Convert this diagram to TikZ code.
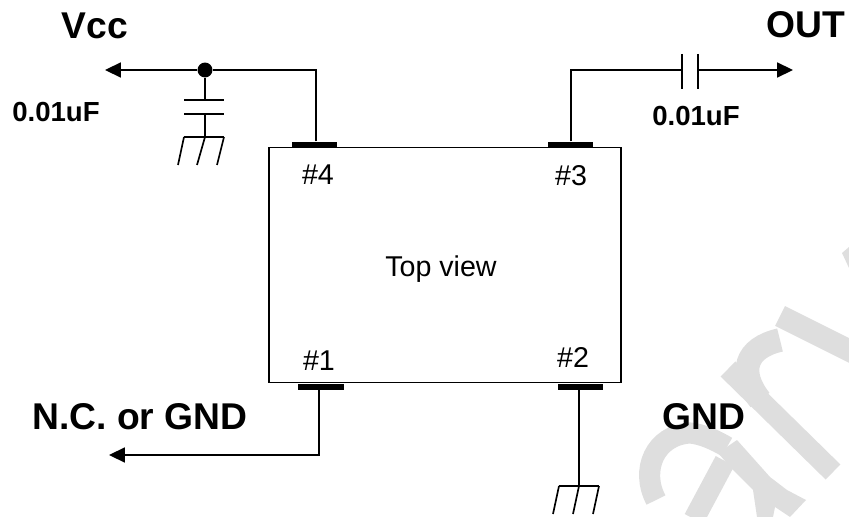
\documentclass[tikz,border=0pt]{standalone}
\usepackage{fontspec}
\setmainfont{Liberation Sans}
\usetikzlibrary{arrows.meta}
\tikzset{
	wire/.style = {line width = 0.95pt},
	arrowwire/.style = {wire, -{Triangle[length = 9pt, width = 8.5pt]}},
	pad/.style = {fill = black, minimum width = 26pt, minimum height = 3.2pt, inner sep = 0pt},
	pinlabel/.style = {font = \fontsize{16.3}{19}\selectfont},
	signal/.style = {font = \fontsize{21.2}{25}\selectfont\bfseries},
	value/.style = {font = \fontsize{15.7}{18}\selectfont\bfseries},
	stamp/.style = {draw = black!13, line width = 12pt},
	stampfill/.style = {fill = black!13}
}
\begin{document}
\begin{tikzpicture}[x = 0.02cm, y = -0.02cm]
	\useasboundingbox (0, 0) rectangle (849, 517);
	% watermark
	\draw[stamp] (656, 500) .. controls (640, 470) and (655, 435) .. (690, 433) .. controls (702, 434) and (715, 440) .. (727, 447);
	\fill[stampfill] (718, 453) -- (732, 469) -- (753, 490) -- (757, 517) -- (773, 517) -- (775, 507) -- (790, 517) -- (806, 500) -- (787, 490) -- (770, 477) -- (737, 440) -- cycle;
	\draw[stamp] (725, 461) -- (694, 519);
	\draw[stamp] (728, 369) -- (833, 472);
	\draw[stamp, line width = 13.5pt] (780, 340) .. controls (745, 348) and (738, 372) .. (760, 400);
	\draw[stamp, line width = 12.6pt] (780, 316) -- (860, 356);
	\fill[stampfill] (842, 253) -- (849, 247) -- (849, 268) -- cycle;

	\node[draw, line width = 0.95pt, minimum width = 200.7pt, minimum height = 133.8pt, inner sep = 0pt] (chip) at (445, 265) {};
	\node[pad] (pin4) at (314.5, 144.5) {};
	\node[pad] (pin3) at (570.5, 144.5) {};
	\node[pad] (pin1) at (321, 387) {};
	\node[pad] (pin2) at (580.5, 387) {};

	\node[pinlabel] (label4) at (318, 175) {\#4};
	\node[pinlabel] (label3) at (571, 176) {\#3};
	\node[pinlabel] (label1) at (319, 361) {\#1};
	\node[pinlabel] (label2) at (573, 358) {\#2};
	\node[pinlabel] (view) at (441, 269) {Top view};

	\node[signal] (vcc) at (95, 26) {Vcc};
	\node[signal] (out) at (806, 25) {OUT};
	\node[signal] (nc) at (140, 417) {N.C. or GND};
	\node[signal] (gnd) at (704, 417) {GND};
	\node[value] (capvcc) at (56, 112) {0.01uF};
	\node[value] (capout) at (696, 116) {0.01uF};

	% Vcc side
	\coordinate (vccend) at (105, 70);
	\coordinate (corner4) at (316, 70);
	\node[circle, fill = black, minimum size = 8.5pt, inner sep = 0pt] (dot) at (205, 70) {};
	\coordinate (plate4a) at (205, 100);
	\coordinate (plate4b) at (205, 114);
	\coordinate (ground4) at (205, 137);
	\draw[wire] (pin4.north -| corner4) -- (corner4) -- (dot);
	\draw[arrowwire] (dot) -- (vccend);
	\draw[wire] (dot) -- (plate4a);
	\draw[wire] (plate4b) -- (ground4);
	\draw[wire] (184, 100) -- (224, 100);
	\draw[wire] (184, 114) -- (224, 114);
	\draw[wire] (184, 137) -- (224, 137);
	\draw[wire] (184, 137) -- (178, 165);
	\draw[wire] (205, 137) -- (197, 165);
	\draw[wire] (224, 137) -- (217, 165);

	% OUT side
	\coordinate (corner3) at (571, 70);
	\coordinate (plate3a) at (682, 70);
	\coordinate (plate3b) at (698, 70);
	\coordinate (outend) at (793, 70);
	\draw[wire] (pin3.north -| corner3) -- (corner3) -- (plate3a);
	\draw[arrowwire] (plate3b) -- (outend);
	\draw[wire] (682, 54) -- (682, 89);
	\draw[wire] (698, 54) -- (698, 89);

	% N.C. side
	\coordinate (corner1) at (319, 455);
	\coordinate (ncend) at (109, 455);
	\draw[arrowwire] (pin1.south -| corner1) -- (corner1) -- (ncend);

	% GND side
	\coordinate (ground2) at (579, 486);
	\draw[wire] (pin2.south -| ground2) -- (ground2);
	\draw[wire] (559, 486) -- (599, 486);
	\draw[wire] (559, 486) -- (553, 514);
	\draw[wire] (579, 486) -- (573, 514);
	\draw[wire] (599, 486) -- (593, 514);
\end{tikzpicture}
\end{document}
